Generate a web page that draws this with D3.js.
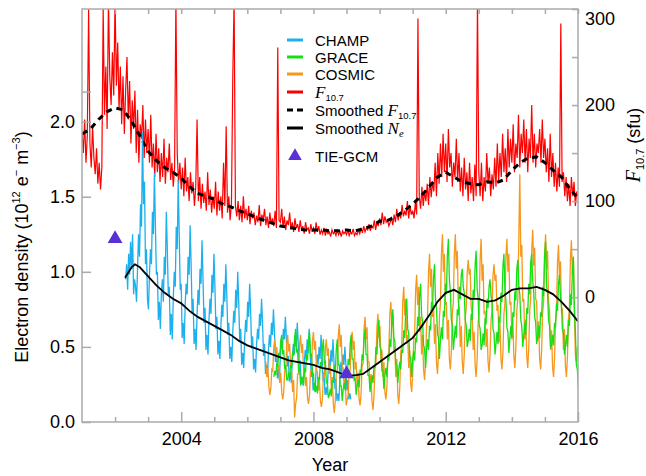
<!DOCTYPE html>
<html><head><meta charset="utf-8">
<script src="https://cdn.jsdelivr.net/npm/d3@7"></script>
<style>
html,body{margin:0;padding:0;background:#fff;}
svg{display:block;font-family:"Liberation Sans",Arial,Helvetica,sans-serif;}
</style></head><body><div id="chart"></div>
<script>
// ---------------- data ----------------
// Daily F10.7 solar flux (sfu), sampled every 0.04 yr from 2001.0
const f107Start = 2001.0, f107Step = 0.04;
const f107Daily = [
 172,150,185,140,168,300,160,135,178,145,128,155,118,140,112,135,300,190,240,175,310,230,200,255,210,
 310,220,265,195,240,180,230,170,215,250,185,225,160,205,175,215,150,195,140,180,165,200,145,185,150,
 175,140,190,135,160,125,170,130,155,120,150,125,165,118,145,130,160,122,140,115,135,310,150,118,140,
 112,135,105,145,110,125,100,130,108,120,95,115,185,100,125,92,118,98,110,90,130,96,112,88,105,
 92,120,85,110,90,105,82,140,95,178,88,105,80,98,230,310,95,84,100,80,95,78,105,82,92,
 80,95,76,90,82,88,75,85,78,96,74,86,80,92,75,84,72,88,76,82,74,90,72,260,80,
 78,92,72,84,70,80,75,88,70,78,68,82,72,76,68,80,70,74,66,78,70,72,66,76,68,
 72,66,78,68,74,65,70,66,72,64,70,66,68,63,70,66,68,64,70,65,68,63,69,66,68,
 65,70,64,68,66,71,64,67,65,70,66,72,67,74,68,72,70,76,69,74,72,80,70,78,74,
 82,75,88,76,84,78,80,74,78,82,75,86,78,92,80,88,82,96,84,90,85,100,82,95,86,
 90,82,98,86,290,105,92,115,95,110,100,118,96,125,104,120,110,140,105,150,118,160,125,170,130,
 160,120,175,135,150,115,140,125,165,120,150,110,135,105,145,112,130,100,140,108,125,100,138,105,310,
 130,105,140,100,125,110,150,118,135,105,128,112,145,115,160,120,150,125,170,130,155,120,175,135,165,
 140,180,130,160,145,190,135,170,150,185,140,175,130,165,145,200,140,170,135,160,150,175,140,185,145,
 165,130,155,120,170,125,150,115,140,110,135,115,285,120,130,105,125,100,118,95,125,105,120,95,110,
 105
];

// CHAMP electron density (1e12 m^-3), every 0.03 yr
const champStart = 2002.32, champStep = 0.03;
const champNe = [
 0.95,1.05,0.88,1.12,0.98,1.20,1.02,1.25,0.85,0.95,0.90,0.80,
 1.02,1.25,1.10,1.45,1.30,1.93,1.45,1.60,1.05,1.15,0.82,0.75,
 0.98,1.15,1.05,1.40,1.25,1.66,1.30,0.98,1.00,0.68,0.80,0.62,
 0.85,0.95,0.80,1.10,0.98,1.40,1.15,0.85,0.90,0.58,0.72,0.55,
 0.82,1.00,0.90,1.30,1.15,1.61,1.25,0.88,0.92,0.56,0.66,0.52,
 0.78,0.92,0.85,1.10,0.98,1.31,1.05,0.72,0.82,0.52,0.62,0.48,
 0.72,0.88,0.78,1.02,0.92,1.21,0.95,0.66,0.76,0.48,0.58,0.45,
 0.68,0.82,0.72,0.98,0.86,1.12,0.90,0.62,0.70,0.45,0.54,0.42,
 0.64,0.78,0.70,0.92,0.80,1.05,0.84,0.58,0.66,0.42,0.50,0.40,
 0.60,0.74,0.66,0.88,0.76,1.00,0.80,0.54,0.62,0.38,0.46,0.36,
 0.56,0.68,0.60,0.80,0.70,0.92,0.74,0.49,0.57,0.35,0.42,0.33,
 0.52,0.62,0.55,0.72,0.64,0.82,0.66,0.44,0.52,0.32,0.38,0.30,
 0.48,0.58,0.50,0.66,0.58,0.75,0.60,0.40,0.48,0.29,0.35,0.28,
 0.45,0.55,0.48,0.62,0.55,0.70,0.56,0.37,0.44,0.27,0.33,0.26,
 0.42,0.52,0.45,0.58,0.50,0.66,0.52,0.34,0.41,0.25,0.30,0.24,
 0.38,0.48,0.42,0.55,0.46,0.62,0.48,0.30,0.37,0.21,0.26,0.20,
 0.35,0.45,0.38,0.50,0.42,0.58,0.44,0.27,0.33,0.18,0.23,0.18,
 0.32,0.42,0.35,0.48,0.40,0.55,0.40,0.22,0.29,0.14,0.19,0.14,
 0.30,0.40,0.33,0.45,0.38,0.50,0.38,0.21,0.28,0.15,0.19,0.15
];

// GRACE electron density, every 0.03 yr
const graceStart = 2006.80, graceStep = 0.03;
const graceNe = [
 0.30,0.34,0.31,0.39,0.37,0.46,0.43,0.54,0.58,0.45,0.48,0.35,0.38,0.28,
 0.28,0.33,0.29,0.38,0.36,0.47,0.44,0.56,0.62,0.47,0.48,0.34,0.35,0.25,
 0.26,0.30,0.25,0.36,0.33,0.45,0.41,0.54,0.60,0.44,0.45,0.31,0.32,0.22,
 0.20,0.24,0.19,0.30,0.28,0.40,0.36,0.49,0.55,0.39,0.40,0.26,0.26,0.16,
 0.18,0.22,0.17,0.28,0.26,0.38,0.34,0.48,0.55,0.38,0.38,0.24,0.24,0.14,
 0.22,0.26,0.21,0.32,0.30,0.42,0.38,0.52,0.58,0.42,0.42,0.28,0.29,0.18,
 0.24,0.28,0.23,0.35,0.33,0.45,0.41,0.56,0.62,0.45,0.45,0.31,0.31,0.20,
 0.27,0.31,0.26,0.38,0.36,0.50,0.45,0.61,0.68,0.50,0.49,0.34,0.34,0.22,
 0.31,0.36,0.30,0.43,0.41,0.55,0.50,0.68,0.75,0.56,0.54,0.39,0.38,0.26,
 0.35,0.40,0.35,0.48,0.46,0.61,0.56,0.74,0.82,0.62,0.59,0.44,0.43,0.30,
 0.41,0.47,0.41,0.56,0.53,0.70,0.64,0.84,0.92,0.71,0.67,0.51,0.49,0.36,
 0.48,0.55,0.48,0.64,0.61,0.80,0.74,0.96,1.05,0.82,0.76,0.59,0.56,0.42,
 0.55,0.63,0.55,0.74,0.70,0.92,0.85,1.11,1.22,0.95,0.87,0.68,0.64,0.48,
 0.56,0.64,0.56,0.75,0.71,0.90,0.82,0.98,1.02,0.90,0.86,0.68,0.64,0.50,
 0.54,0.62,0.54,0.72,0.68,0.88,0.82,1.05,1.14,0.89,0.82,0.65,0.62,0.48,
 0.51,0.59,0.51,0.69,0.65,0.82,0.76,0.90,0.95,0.84,0.80,0.62,0.59,0.45,
 0.52,0.60,0.52,0.70,0.66,0.86,0.80,1.04,1.12,0.88,0.81,0.63,0.60,0.46,
 0.56,0.64,0.56,0.73,0.70,0.87,0.81,1.02,1.08,0.91,0.85,0.68,0.64,0.50,
 0.58,0.66,0.58,0.76,0.72,0.92,0.85,1.06,1.12,0.94,0.87,0.70,0.66,0.52,
 0.56,0.64,0.56,0.73,0.70,0.90,0.84,1.10,1.20,0.91,0.85,0.68,0.64,0.50,
 0.51,0.58,0.51,0.66,0.63,0.79,0.74,0.92,0.98,0.83,0.78,0.61,0.59,0.45,
 0.50,0.58,0.50,0.68,0.64,0.85,0.78,1.00,1.10,0.76,0.61,0.38,0.35,0.23
];

// COSMIC electron density, every 0.03 yr
const cosmicStart = 2006.56, cosmicStep = 0.03;
const cosmicNe = [
 0.40,0.30,0.36,0.24,0.18,0.22,0.35,0.34,0.50,0.55,0.45,0.50,0.35,
 0.38,0.26,0.33,0.20,0.15,0.20,0.34,0.34,0.52,0.58,0.47,0.52,0.36,
 0.34,0.20,0.28,0.03,0.12,0.16,0.32,0.32,0.52,0.58,0.46,0.52,0.34,
 0.36,0.24,0.30,0.16,0.12,0.18,0.34,0.34,0.54,0.60,0.48,0.54,0.35,
 0.33,0.21,0.28,0.14,0.10,0.15,0.31,0.30,0.49,0.55,0.44,0.49,0.32,
 0.38,0.22,0.30,0.12,0.06,0.14,0.32,0.34,0.57,0.65,0.50,0.58,0.36,
 0.36,0.22,0.29,0.11,0.15,0.18,0.34,0.34,0.54,0.60,0.48,0.54,0.35,
 0.40,0.24,0.33,0.15,0.11,0.19,0.37,0.39,0.62,0.70,0.55,0.63,0.40,
 0.40,0.22,0.32,0.14,0.08,0.17,0.36,0.39,0.63,0.72,0.56,0.64,0.40,
 0.48,0.30,0.40,0.20,0.15,0.23,0.44,0.47,0.72,0.80,0.64,0.72,0.47,
 0.50,0.30,0.42,0.18,0.12,0.23,0.46,0.52,0.80,0.90,0.71,0.82,0.52,
 0.58,0.36,0.48,0.26,0.20,0.31,0.54,0.59,0.88,0.98,0.78,0.90,0.60,
 0.70,0.45,0.58,0.35,0.28,0.40,0.64,0.70,1.00,1.12,0.90,1.02,0.70,
 0.78,0.52,0.65,0.40,0.32,0.45,0.70,0.79,1.12,1.25,1.00,1.12,0.78,
 0.80,0.55,0.68,0.42,0.35,0.47,0.72,0.80,1.12,1.25,1.02,1.14,0.80,
 0.76,0.50,0.64,0.40,0.32,0.45,0.69,0.76,1.00,1.08,0.98,1.02,0.76,
 0.72,0.48,0.60,0.37,0.30,0.42,0.66,0.72,1.08,1.22,0.94,1.05,0.72,
 0.74,0.50,0.62,0.40,0.33,0.45,0.68,0.74,0.98,1.05,0.94,0.98,0.74,
 0.78,0.53,0.66,0.42,0.35,0.47,0.72,0.79,1.10,1.22,1.00,1.12,0.78,
 0.80,0.55,0.68,0.44,0.36,0.49,0.74,0.82,1.22,1.65,1.10,1.18,0.80,
 0.82,0.55,0.68,0.44,0.36,0.49,0.74,0.82,1.14,1.28,1.04,1.16,0.82,
 0.80,0.54,0.67,0.42,0.35,0.48,0.73,0.80,1.12,1.25,1.02,1.14,0.80,
 0.74,0.48,0.61,0.37,0.30,0.42,0.67,0.74,1.06,1.18,0.96,1.07,0.74,
 0.75,0.48,0.62,0.37,0.30,0.43,0.68,0.76,1.08,1.21,0.98,1.10,0.75,
 0.45,0.40,0.50
];

// Smoothed F10.7 (sfu)
const smoothF107Years = [2001.0,2001.25,2001.5,2001.75,2002.0,2002.25,2002.5,2002.75,2003.0,2003.25,2003.5,2003.75,
 2004.0,2004.25,2004.5,2004.75,2005.0,2005.25,2005.5,2005.75,2006.0,2006.25,2006.5,2006.75,2007.0,2007.25,2007.5,2007.75,
 2008.0,2008.25,2008.5,2008.75,2009.0,2009.25,2009.5,2009.75,2010.0,2010.25,2010.5,2010.75,2011.0,2011.25,2011.5,2011.75,
 2012.0,2012.25,2012.5,2012.75,2013.0,2013.25,2013.5,2013.75,2014.0,2014.25,2014.5,2014.75,2015.0,2015.25,2015.5,2015.75,2016.0];
const smoothF107 = [170,175,185,193,197,195,183,168,152,142,135,130,
 124,115,108,105,102,97,94,90,87,83,80,77,74,73,71,70,
 70,70,69,69,70,69,71,74,79,80,84,90,97,105,115,125,
 130,125,120,118,117,120,119,122,132,140,145,146,140,132,125,113,103];

// Smoothed electron density (1e12 m^-3)
const smoothNeYears = [2002.3,2002.5,2002.6,2002.75,2003.0,2003.25,2003.5,2003.75,2004.0,2004.25,2004.5,2004.75,
 2005.0,2005.25,2005.5,2005.75,2006.0,2006.25,2006.5,2006.75,2007.0,2007.25,2007.5,2007.75,2008.0,2008.25,2008.5,2008.75,
 2009.0,2009.25,2009.5,2009.75,2010.0,2010.25,2010.5,2010.75,2011.0,2011.25,2011.5,2011.75,2012.0,2012.25,2012.5,2012.75,
 2013.0,2013.25,2013.5,2013.75,2014.0,2014.25,2014.5,2014.75,2015.0,2015.25,2015.5,2015.75,2016.0];
const smoothNe = [0.96,1.03,1.05,1.03,0.97,0.91,0.86,0.82,0.79,0.74,0.70,0.67,
 0.64,0.61,0.58,0.54,0.51,0.49,0.47,0.45,0.43,0.41,0.40,0.39,0.38,0.36,0.35,0.33,
 0.31,0.31,0.32,0.36,0.40,0.44,0.48,0.52,0.56,0.63,0.71,0.80,0.86,0.88,0.85,0.82,
 0.82,0.80,0.81,0.84,0.88,0.89,0.89,0.90,0.88,0.85,0.80,0.74,0.67];

// TIE-GCM model runs
const tiegcmYears = [2002.0, 2009.0];
const tiegcmNe = [1.22, 0.32];

// axis ticks
const yearMajor = [2004, 2008, 2012, 2016];
const yearMinor = [2002, 2003, 2005, 2006, 2007, 2009, 2010, 2011, 2013, 2014, 2015];
const neTicks = [0, 0.5, 1.0, 1.5, 2.0];
const neTickLabels = ["0.0", "0.5", "1.0", "1.5", "2.0"];
const neExtraTicks = [2.2];
const f107Ticks = [0, 100, 200, 300];
const f107MinorTicks = [50, 150, 250];

const colors = {champ: "#1cb0ee", grace: "#14e014", cosmic: "#f7981c", f107: "#ff0000", tiegcm: "#5a30d4"};

// ---------------- layout ----------------
const W = 646, H = 476;
const L = 82, R = 578, T = 9, B = 422;
const svg = d3.select("#chart").append("svg").attr("width", W).attr("height", H);

const x = d3.scaleLinear().domain([2001, 2016]).range([L, R]);
const yNe = d3.scaleLinear().domain([0, 2.75]).range([B, T]);
const yF = d3.scaleLinear().domain([-130, 300]).range([B, T]);

svg.append("clipPath").attr("id", "plot").append("rect")
  .attr("x", L).attr("y", T).attr("width", R - L).attr("height", B - T);

const series = (start, step, vals) => vals.map((v, i) => [start + i * step, v]);
const pairs = (xs, ys) => xs.map((t, i) => [t, ys[i]]);

const g = svg.append("g").attr("clip-path", "url(#plot)");
const lineF = d3.line().x(d => x(d[0])).y(d => yF(d[1]));
const lineN = d3.line().x(d => x(d[0])).y(d => yNe(d[1]));

g.append("path").attr("d", lineF(series(f107Start, f107Step, f107Daily)))
  .attr("fill", "none").attr("stroke", colors.f107).attr("stroke-width", 1.2);
g.append("path").attr("d", lineF(pairs(smoothF107Years, smoothF107)))
  .attr("fill", "none").attr("stroke", "#000").attr("stroke-width", 3)
  .attr("stroke-dasharray", "6,5");

g.append("path").attr("d", lineN(series(champStart, champStep, champNe)))
  .attr("fill", "none").attr("stroke", colors.champ).attr("stroke-width", 1.3);
g.append("path").attr("d", lineN(series(cosmicStart, cosmicStep, cosmicNe)))
  .attr("fill", "none").attr("stroke", colors.cosmic).attr("stroke-width", 1.3);
g.append("path").attr("d", lineN(series(graceStart, graceStep, graceNe)))
  .attr("fill", "none").attr("stroke", colors.grace).attr("stroke-width", 1.3);

g.append("path").attr("d", lineN(pairs(smoothNeYears, smoothNe)))
  .attr("fill", "none").attr("stroke", "#000").attr("stroke-width", 1.8);

svg.selectAll(".tie").data(pairs(tiegcmYears, tiegcmNe)).join("path")
  .attr("class", "tie")
  .attr("transform", d => `translate(${x(d[0])},${yNe(d[1])})`)
  .attr("d", d3.symbol().type(d3.symbolTriangle).size(95))
  .attr("fill", colors.tiegcm);

// ---------------- axes ----------------
const axisColor = "#aaaaaa";
function styleAxis(sel) {
  sel.select(".domain").remove();
  sel.selectAll("line").attr("stroke", axisColor).attr("stroke-width", 1.5);
  sel.selectAll("text").attr("fill", "#000").attr("font-size", 18)
    .attr("font-family", "'Liberation Sans', Arial, sans-serif");
}

// frame
svg.append("rect").attr("x", L).attr("y", T).attr("width", R - L).attr("height", B - T)
  .attr("fill", "none").attr("stroke", axisColor).attr("stroke-width", 1.5);

svg.append("g").attr("transform", `translate(0,${B})`)
  .call(d3.axisBottom(x).tickValues(yearMajor).tickFormat(d3.format("d")).tickSizeInner(-10).tickSizeOuter(0).tickPadding(10))
  .call(styleAxis);
svg.append("g").attr("transform", `translate(0,${B})`)
  .call(d3.axisBottom(x).tickValues(yearMinor).tickFormat("").tickSizeInner(-5).tickSizeOuter(0))
  .call(styleAxis);
svg.append("g").attr("transform", `translate(0,${T})`)
  .call(d3.axisTop(x).tickValues(yearMajor.concat(yearMinor)).tickFormat("").tickSizeInner(-5).tickSizeOuter(0))
  .call(styleAxis);

svg.append("g").attr("transform", `translate(${L},0)`)
  .call(d3.axisLeft(yNe).tickValues(neTicks).tickFormat((d, i) => neTickLabels[i]).tickSizeInner(-9).tickSizeOuter(0).tickPadding(7))
  .call(styleAxis);
svg.append("g").attr("transform", `translate(${L},0)`)
  .call(d3.axisLeft(yNe).tickValues(neExtraTicks).tickFormat("").tickSizeInner(-9).tickSizeOuter(0))
  .call(styleAxis);

const rightAxis = svg.append("g").attr("transform", `translate(${R},0)`)
  .call(d3.axisRight(yF).tickValues(f107Ticks).tickFormat(d3.format("d")).tickSizeInner(-6).tickSizeOuter(0).tickPadding(7))
  .call(styleAxis);
rightAxis.selectAll(".tick text").filter(d => d === 300).attr("dy", "0.85em");
svg.append("g").attr("transform", `translate(${R},0)`)
  .call(d3.axisRight(yF).tickValues(f107MinorTicks).tickFormat("").tickSizeInner(-6).tickSizeOuter(0))
  .call(styleAxis);

// axis titles
svg.append("text").attr("x", (L + R) / 2).attr("y", 471).attr("text-anchor", "middle")
  .attr("font-size", 18).text("Year");

const lt = svg.append("text").attr("transform", "translate(28,247) rotate(-90)")
  .attr("text-anchor", "middle").attr("font-size", 18);
lt.append("tspan").text("Electron density (10");
lt.append("tspan").attr("font-size", 11).attr("dy", -8).text("12");
lt.append("tspan").attr("dy", 8).text(" e");
lt.append("tspan").attr("font-size", 11).attr("dy", -8).text("\u2212");
lt.append("tspan").attr("dy", 8).text(" m");
lt.append("tspan").attr("font-size", 11).attr("dy", -8).text("\u22123");
lt.append("tspan").attr("dy", 8).text(")");

const rt = svg.append("text").attr("transform", "translate(640,145) rotate(-90)")
  .attr("text-anchor", "middle").attr("font-size", 18);
rt.append("tspan").attr("font-family", "'Liberation Serif', serif").attr("font-style", "italic").attr("font-size", 20).text("F");
rt.append("tspan").attr("font-size", 11).attr("dy", 4).text("10.7");
rt.append("tspan").attr("dy", -4).text(" (sfu)");

// ---------------- legend ----------------
const lg = svg.append("g");
const lx0 = 287, lx1 = 303, tx = 315;
const rows = [
  {y: 40, kind: "line", color: colors.champ, label: "CHAMP"},
  {y: 57, kind: "line", color: colors.grace, label: "GRACE"},
  {y: 74, kind: "line", color: colors.cosmic, label: "COSMIC"},
  {y: 92, kind: "line", color: colors.f107, label: "F107"},
  {y: 110, kind: "dash", color: "#000", label: "SF107"},
  {y: 128, kind: "line", color: "#000", label: "SNe"},
  {y: 156, kind: "tri", color: colors.tiegcm, label: "TIE-GCM"}
];
rows.forEach(r => {
  if (r.kind === "line") {
    lg.append("line").attr("x1", lx0).attr("x2", lx1).attr("y1", r.y).attr("y2", r.y)
      .attr("stroke", r.color).attr("stroke-width", 3);
  } else if (r.kind === "dash") {
    lg.append("line").attr("x1", lx0).attr("x2", lx1).attr("y1", r.y).attr("y2", r.y)
      .attr("stroke", r.color).attr("stroke-width", 3).attr("stroke-dasharray", "6,4");
  } else {
    lg.append("path").attr("transform", `translate(${(lx0 + lx1) / 2},${r.y})`)
      .attr("d", d3.symbol().type(d3.symbolTriangle).size(80)).attr("fill", r.color);
  }
  const t = lg.append("text").attr("x", tx).attr("y", r.y + 5.5).attr("font-size", 15);
  const italicSerif = s => t.append("tspan").attr("font-family", "'Liberation Serif', serif")
    .attr("font-style", "italic").attr("font-size", 17).text(s);
  if (r.label === "F107") {
    italicSerif("F");
    t.append("tspan").attr("font-size", 9.5).attr("dy", 3).text("10.7");
  } else if (r.label === "SF107") {
    t.append("tspan").text("Smoothed ");
    italicSerif("F");
    t.append("tspan").attr("font-size", 9.5).attr("dy", 3).text("10.7");
  } else if (r.label === "SNe") {
    t.append("tspan").text("Smoothed ");
    italicSerif("N");
    t.append("tspan").attr("font-family", "'Liberation Serif', serif").attr("font-style", "italic")
      .attr("font-size", 10.5).attr("dy", 3).text("e");
  } else {
    t.text(r.label);
  }
});
</script></body></html>
